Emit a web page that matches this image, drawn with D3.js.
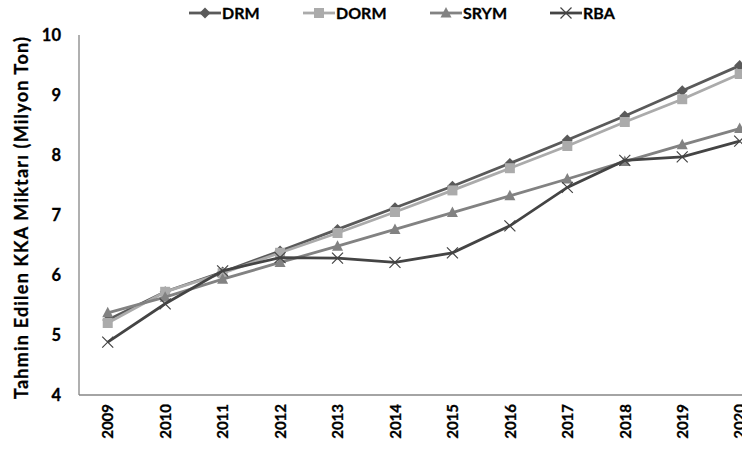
<!DOCTYPE html>
<html><head><meta charset="utf-8">
<script src="https://cdn.jsdelivr.net/npm/d3@7"></script>
<style>body{margin:0;background:#fff;overflow:hidden}svg{display:block}text{font-family:Lato,"Open Sans",sans-serif;font-weight:bold}</style>
</head><body><svg id="c" width="742" height="452"></svg>
<script>
const years = ["2009","2010","2011","2012","2013","2014","2015","2016","2017","2018","2019","2020"];
const DRM  = [5.25,5.72,6.05,6.40,6.76,7.12,7.48,7.86,8.25,8.65,9.07,9.49];
const DORM = [5.20,5.72,6.03,6.37,6.70,7.05,7.41,7.78,8.15,8.55,8.93,9.35];
const SRYM = [5.37,5.63,5.93,6.21,6.48,6.76,7.04,7.32,7.60,7.89,8.17,8.44];
const RBA  = [4.88,5.52,6.07,6.29,6.28,6.21,6.37,6.82,7.46,7.91,7.97,8.23];
const yTicks = [4,5,6,7,8,9,10];
const series = [
  {name:"DRM", values:DRM, color:"#5a5a5a", marker:"diamond"},
  {name:"DORM", values:DORM, color:"#ababab", marker:"square"},
  {name:"SRYM", values:SRYM, color:"#828282", marker:"triangle"},
  {name:"RBA", values:RBA, color:"#444444", marker:"cross"}
];

const svg = d3.select("#c");
const pLeft = 79, pTop = 35, pBottom = 395;
const bw = 57.45;
const x = d3.scalePoint().domain(years).range([pLeft + bw/2, pLeft + bw/2 + bw*11]);
const y = d3.scaleLinear().domain([4,10]).range([pBottom, pTop]);

svg.append("line").attr("x1",pLeft).attr("x2",pLeft).attr("y1",pTop).attr("y2",pBottom).attr("stroke","#868686").attr("stroke-width",1.3);
svg.append("line").attr("x1",pLeft).attr("x2",742).attr("y1",pBottom).attr("y2",pBottom).attr("stroke","#868686").attr("stroke-width",1.3);

const yAxis = d3.axisLeft(y).tickValues(yTicks).tickSize(0).tickPadding(18).tickFormat(d3.format("d"));
const gy = svg.append("g").attr("transform",`translate(${pLeft},0)`).call(yAxis);
gy.select(".domain").remove();
gy.selectAll("text").attr("font-size",16.5).attr("fill","#000").attr("stroke","#000").attr("stroke-width",0.3)
  .style("font-family","Lato,sans-serif").style("font-weight","bold");

const xAxis = d3.axisBottom(x).tickSize(0).tickPadding(0);
const gx = svg.append("g").attr("transform",`translate(0,${pBottom})`).call(xAxis);
gx.select(".domain").remove();
gx.selectAll("text").attr("font-size",15).attr("fill","#000").attr("stroke","#000").attr("stroke-width",0.3)
  .attr("transform","rotate(-90)").attr("text-anchor","end").attr("dy","0.35em").attr("x",-9).attr("y",0)
  .style("font-family","Lato,sans-serif").style("font-weight","bold");

svg.append("text").attr("transform","translate(22,218) rotate(-90)").attr("text-anchor","middle")
  .attr("dy","0.35em").attr("font-size",18).attr("fill","#000").attr("stroke","#000").attr("stroke-width",0.3)
  .attr("textLength",362).attr("lengthAdjust","spacing")
  .text("Tahmin Edilen KKA Miktarı (Milyon Ton)");

function marker(g, type, color, cx, cy){
  if(type==="diamond"){
    g.append("path").attr("d",`M${cx},${cy-5.5}L${cx+5.5},${cy}L${cx},${cy+5.5}L${cx-5.5},${cy}Z`).attr("fill",color);
  } else if(type==="square"){
    g.append("rect").attr("x",cx-5).attr("y",cy-5).attr("width",10).attr("height",10).attr("fill",color);
  } else if(type==="triangle"){
    g.append("path").attr("d",`M${cx},${cy-6}L${cx+5.5},${cy+4.5}L${cx-5.5},${cy+4.5}Z`).attr("fill",color);
  } else {
    g.append("path").attr("d",`M${cx-5.5},${cy-5.5}L${cx+5.5},${cy+5.5}M${cx-5.5},${cy+5.5}L${cx+5.5},${cy-5.5}`).attr("stroke",color).attr("stroke-width",1.2).attr("fill","none");
  }
}

const line = d3.line().x((d,i)=>x(years[i])).y(d=>y(d));
series.forEach(s=>{
  const g = svg.append("g");
  g.append("path").datum(s.values).attr("d",line).attr("fill","none").attr("stroke",s.color).attr("stroke-width",2.8);
  s.values.forEach((v,i)=>marker(g,s.marker,s.color,x(years[i]),y(v)));
});

const legX = [189,303,430,550];
series.forEach((s,i)=>{
  const g = svg.append("g");
  const lx = legX[i], ly = 13;
  g.append("line").attr("x1",lx).attr("x2",lx+32).attr("y1",ly).attr("y2",ly).attr("stroke",s.color).attr("stroke-width",2.8);
  marker(g,s.marker,s.color,lx+16,ly);
  g.append("text").attr("x",lx+33).attr("y",ly).attr("dy","0.35em").attr("font-size",16).attr("fill","#000").attr("stroke","#000").attr("stroke-width",0.3).text(s.name);
});
</script></body></html>
